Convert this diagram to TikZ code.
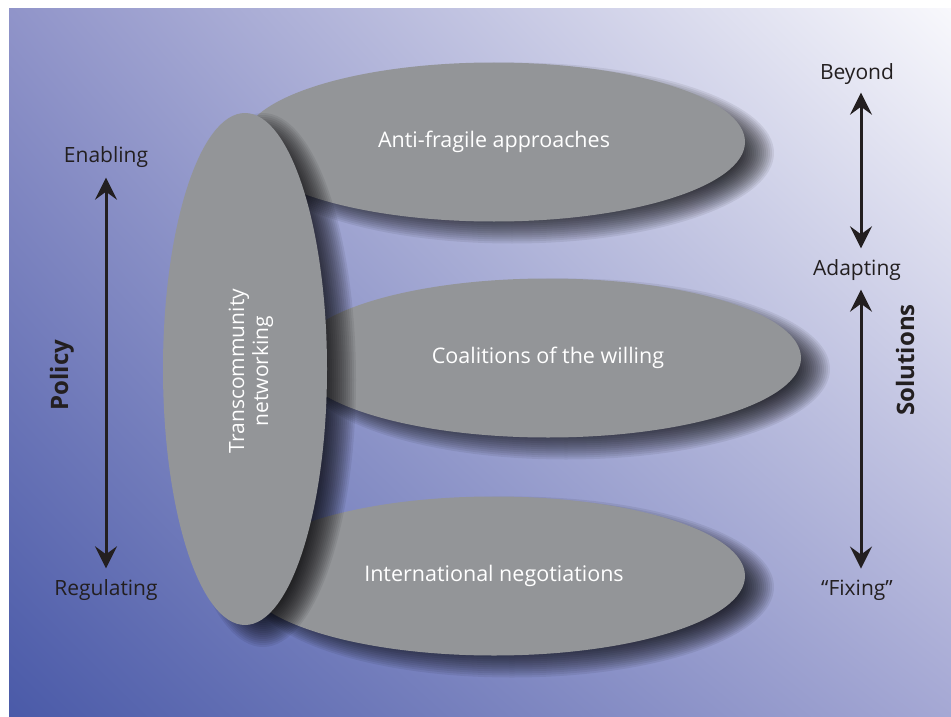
\documentclass[tikz,border=0pt]{standalone}
\usepackage{fontspec}
\setmainfont{Open Sans}
\usetikzlibrary{shapes.geometric,arrows.meta,shadings}
\definecolor{ellgray}{HTML}{939598}
\definecolor{ink}{HTML}{231F20}
\definecolor{bgUL}{HTML}{9094C9}
\definecolor{bgUR}{HTML}{F8F8FC}
\definecolor{bgLL}{HTML}{4A5AA8}
\definecolor{bgLR}{HTML}{A5A8D4}
\tikzset{
  blob/.style={ellipse, fill=ellgray, inner sep=0pt},
  blobtext/.style={text=white, font=\fontsize{21.5}{25}\selectfont},
  lab/.style={text=ink, font=\fontsize{21}{25}\selectfont, inner sep=2pt},
  axislab/.style={text=ink, font=\bfseries\fontsize{24}{28}\selectfont, rotate=90},
  dbl/.style={{Stealth[length=22pt,width=22pt,inset=8pt]}-{Stealth[length=22pt,width=22pt,inset=8pt]}, line width=3pt, draw=ink},
  shadowlayer/.style={fill=black, opacity=0.07}
}
% soft shadow: centre x, centre y, x radius, y radius
\newcommand{\mkshadow}[4]{%
  \foreach \k in {0,...,20}{%
    \fill[shadowlayer] ({#1+18},{#2+11}) ellipse [x radius={#3+11-2*\k}, y radius={#4+11-2*\k}];
  }}
\begin{document}
\begin{tikzpicture}[x=1pt,y=-1pt]
\useasboundingbox (0,0) rectangle (951,717);
\shade[upper left=bgUL, upper right=bgUR, lower left=bgLL, lower right=bgLR] (9,9) rectangle (951,717);
% horizontal ellipses
\mkshadow{494}{142}{251}{79.5}
\node[blob, minimum width=502pt, minimum height=159pt] (anti) at (494,142) {};
\mkshadow{548}{358}{253}{79.5}
\node[blob, minimum width=506pt, minimum height=159pt] (coal) at (548,358) {};
\mkshadow{494}{576}{251}{79.5}
\node[blob, minimum width=502pt, minimum height=159pt] (intl) at (494,576) {};
\node[blobtext] (antit) at (494,142) {Anti-fragile approaches};
\node[blobtext] (coalt) at (548,358) {Coalitions of the willing};
\node[blobtext] (intlt) at (494,576) {International negotiations};
% vertical ellipse
\mkshadow{245}{369}{82}{256}
\node[blob, minimum width=164pt, minimum height=512pt] (trans) at (245,369) {};
\node[blobtext, rotate=90, align=center, font=\fontsize{21}{24}\selectfont] (transt) at (251,371) {Transcommunity\\networking};
% left axis
\node[lab] (enab) at (106,157) {Enabling};
\node[lab] (regu) at (106,590) {Regulating};
\node[axislab] (policy) at (62,375) {Policy};
\draw[dbl, shorten <=8pt, shorten >=9pt] (enab.south) -- (regu.north);
% right axis
\node[lab] (beyond) at (857,74) {Beyond};
\node[lab] (adapt) at (857,270) {Adapting};
\node[lab] (fixing) at (857,590) {“Fixing”};
\node[axislab] (solut) at (905,360) {Solutions};
\draw[dbl, shorten <=6pt, shorten >=9pt] ([xshift=4pt]beyond.south) -- ([xshift=4pt]adapt.north);
\draw[dbl, shorten <=7pt, shorten >=9pt] ([xshift=4pt]adapt.south) -- ([xshift=4pt]fixing.north);
\end{tikzpicture}
\end{document}
